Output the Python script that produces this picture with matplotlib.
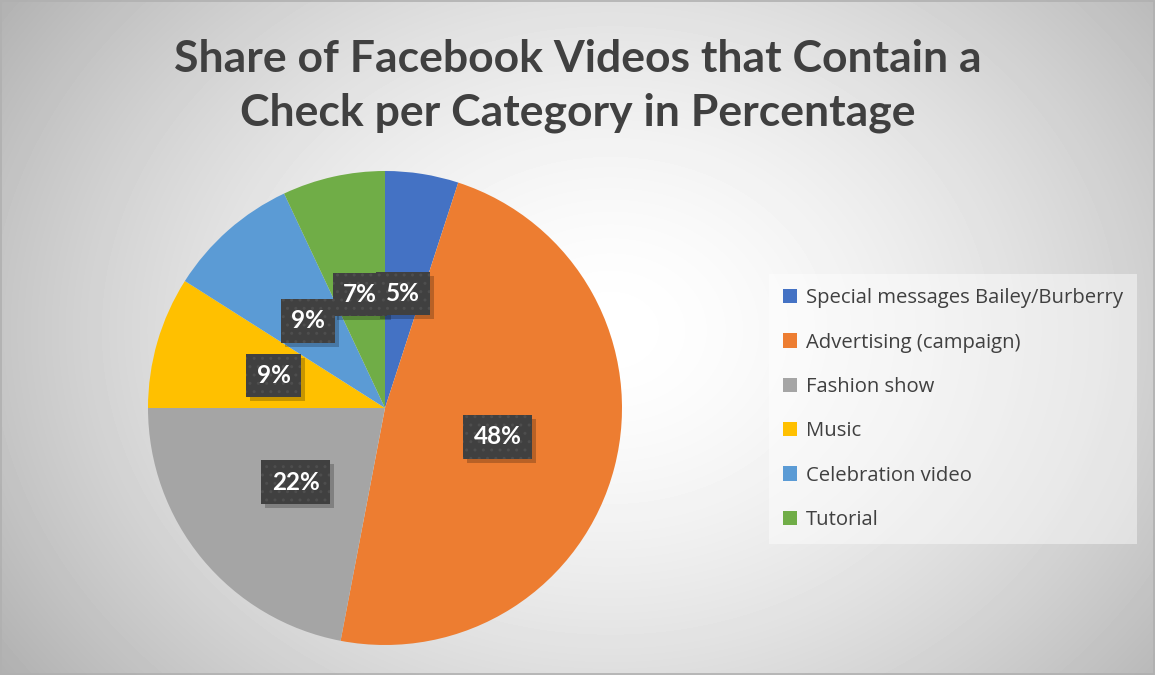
import matplotlib.pyplot as plt
import numpy as np
from matplotlib.patches import Rectangle
from matplotlib.transforms import IdentityTransform

# Category shares (percent)
categories = ['Special messages Bailey/Burberry', 'Advertising (campaign)',
              'Fashion show', 'Music', 'Celebration video', 'Tutorial']
shares = [5, 48, 22, 9, 9, 7]
colors = ['#4472C4', '#ED7D31', '#A5A5A5', '#FFC000', '#5B9BD5', '#70AD47']

fig = plt.figure(figsize=(11.55, 6.75), dpi=100)

# radial grey background
bg = fig.add_axes([0, 0, 1, 1], zorder=-10)
yy, xx = np.mgrid[0:675, 0:1155]
d = np.hypot((xx - 610) / 700, (yy - 330) / 560)
shade = np.clip(1.0 - 0.28 * d ** 1.6, 0, 1)
bg.imshow(shade, cmap='gray', vmin=0, vmax=1, extent=[0, 1155, 675, 0],
          aspect='auto', interpolation='bilinear')
bg.add_patch(Rectangle((0.5, 0.5), 1153, 673, fill=False, ec='#b0b0b0', lw=1.2))
bg.set_xlim(0, 1155)
bg.set_ylim(675, 0)
bg.axis('off')

fig.text(0.5, 1 - 86 / 675, 'Share of Facebook Videos that Contain a\nCheck per Category in Percentage',
         ha='center', va='center', fontsize=32, fontweight='bold', color='#404040',
         family='Lato', linespacing=1.38)

# pie centred at (385, 408), radius ~237 px
ax = fig.add_axes([148 / 1155, (675 - 645) / 675, 474 / 1155, 474 / 675])
wedges, texts = ax.pie(shares, colors=colors, startangle=90, counterclock=False,
                       labels=[f'{s}%' for s in shares], labeldistance=0.49,
                       wedgeprops=dict(linewidth=0))
ax.set_xlim(-1, 1)
ax.set_ylim(-1, 1)
ax.set_aspect('equal')

for i, t in enumerate(texts):
    t.set_ha('center')
    t.set_va('center')
    t.set_fontsize(17.5)
    t.set_fontweight('bold')
    t.set_family('Lato')
    t.set_color('white')
    t.set_zorder(20 - i)
    t.set_bbox(dict(boxstyle='square,pad=0.42', fc='#404040', ec='#4e4e4e',
                    hatch='..', lw=0))

# drop shadows under the label boxes
fig.canvas.draw()
for t in texts:
    ext = t.get_bbox_patch().get_window_extent()
    ax.add_patch(Rectangle((ext.x0 + 4, ext.y0 - 4), ext.width, ext.height,
                           transform=IdentityTransform(), fc='black', ec='none',
                           alpha=0.22, zorder=3, clip_on=False))

handles = [Rectangle((0, 0), 1, 1, fc=c, ec='none') for c in colors]
leg = fig.legend(handles, categories, loc='upper left',
                 bbox_to_anchor=(769 / 1155, 1 - 274 / 675),
                 prop=dict(family='Open Sans', size=14.6), labelcolor='#404040',
                 frameon=True, fancybox=False, handlelength=0.7, handleheight=0.7,
                 handletextpad=0.4, labelspacing=1.2, borderpad=0.7,
                 borderaxespad=0)
leg.get_frame().set_facecolor('white')
leg.get_frame().set_alpha(0.45)
leg.get_frame().set_edgecolor('none')

fig.savefig('out.png', dpi=100)
